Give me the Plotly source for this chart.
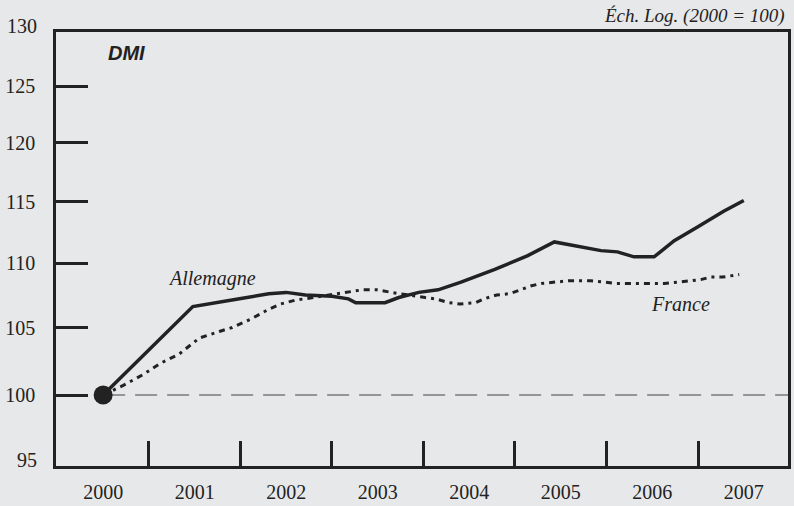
import math
import plotly.graph_objects as go

# DMI index, 2000 = 100 (log scale)
YEARS_ALLEMAGNE = [2000.0, 2000.98, 2001.49, 2001.81, 2002.0, 2002.21, 2002.5, 2002.68,
                   2002.76, 2003.08, 2003.23, 2003.45, 2003.66, 2003.91, 2004.28, 2004.64,
                   2004.93, 2005.15, 2005.44, 2005.62, 2005.8, 2006.02, 2006.24, 2006.49,
                   2006.78, 2007.0]
ALLEMAGNE = [100, 106.6, 107.2, 107.6, 107.7, 107.5, 107.4, 107.2,
             106.9, 106.9, 107.3, 107.7, 107.9, 108.5, 109.5, 110.6,
             111.7, 111.4, 111.0, 110.9, 110.5, 110.5, 111.8, 112.9,
             114.2, 115.1]

YEARS_FRANCE = [2000.0, 2000.22, 2000.44, 2000.62, 2000.83, 2001.05, 2001.27, 2001.41,
                2001.63, 2001.81, 2001.94, 2002.1, 2002.3, 2002.58, 2002.68, 2002.83,
                2002.99, 2003.15, 2003.52, 2003.63, 2003.78, 2003.9, 2004.07, 2004.16,
                2004.3, 2004.44, 2004.56, 2004.67, 2004.79, 2004.92, 2005.08, 2005.22,
                2005.33, 2005.48, 2005.6, 2005.73, 2005.98, 2006.13, 2006.28, 2006.4,
                2006.53, 2006.64, 2006.77, 2006.95]
FRANCE = [100, 100.7, 101.5, 102.3, 103.0, 104.2, 104.7, 105.0,
          105.7, 106.4, 106.8, 107.1, 107.3, 107.6, 107.7, 107.9,
          107.9, 107.7, 107.3, 107.2, 106.9, 106.8, 106.9, 107.2,
          107.5, 107.6, 107.9, 108.2, 108.4, 108.5, 108.6, 108.6,
          108.6, 108.5, 108.4, 108.4, 108.4, 108.4, 108.5, 108.6,
          108.7, 108.9, 108.9, 109.1]

YEAR_LABELS = [2000, 2001, 2002, 2003, 2004, 2005, 2006, 2007]
YEAR_BOUNDS = [2000.5, 2001.5, 2002.5, 2003.5, 2004.5, 2005.5, 2006.5]
Y_TICKS = [100, 105, 110, 115, 120, 125]
Y_MIN, Y_MAX = 95, 130
BASE = 100
X_RANGE = [1999.485, 2007.483]

BG = "#e7e8ea"
INK = "#222222"
SERIF = "Liberation Serif, Times New Roman, serif"
SANS = "Liberation Sans, Arial, sans-serif"

fig = go.Figure()

# base-100 reference line, from the start year to the right edge
fig.add_trace(go.Scatter(
    x=[YEARS_ALLEMAGNE[0], X_RANGE[1]], y=[BASE, BASE], mode="lines",
    line=dict(color="#7a7a7a", width=1.5, dash="22px,10px"),
    hoverinfo="skip", showlegend=False))

fig.add_trace(go.Scatter(
    x=YEARS_ALLEMAGNE, y=ALLEMAGNE, mode="lines",
    line=dict(color=INK, width=3.5), hoverinfo="skip", showlegend=False))

# France drawn on the overlay x-axis (same range) that carries the inner ticks
fig.add_trace(go.Scatter(
    x=YEARS_FRANCE, y=FRANCE, mode="lines", xaxis="x2",
    line=dict(color=INK, width=3, dash="6px,5px,3px,5px"),
    hoverinfo="skip", showlegend=False))

# common starting point
fig.add_trace(go.Scatter(
    x=[YEARS_ALLEMAGNE[0]], y=[ALLEMAGNE[0]], mode="markers",
    marker=dict(color=INK, size=19, symbol="circle"),
    hoverinfo="skip", showlegend=False))

fig.update_layout(
    width=794, height=506,
    margin=dict(l=56, r=3, t=32, b=35),
    paper_bgcolor=BG, plot_bgcolor=BG,
    xaxis=dict(
        range=X_RANGE, tickmode="array", tickvals=YEAR_LABELS,
        ticktext=[str(y) for y in YEAR_LABELS],
        ticks="", showgrid=False, zeroline=False,
        showline=True, linecolor=INK, linewidth=2.5, mirror=True,
        tickfont=dict(family=SERIF, size=20, color=INK),
        ticklabelstandoff=6,
    ),
    xaxis2=dict(
        range=X_RANGE, overlaying="x", anchor="y", side="bottom",
        tickmode="array", tickvals=YEAR_BOUNDS,
        ticks="inside", ticklen=25, tickwidth=2.5, tickcolor=INK,
        showticklabels=False, showgrid=False, zeroline=False, showline=False,
    ),
    yaxis=dict(
        type="log", range=[math.log10(Y_MIN), math.log10(Y_MAX)],
        tickmode="array", tickvals=Y_TICKS, ticktext=[str(v) for v in Y_TICKS],
        ticks="inside", ticklen=32, tickwidth=2.5, tickcolor=INK,
        showgrid=False, zeroline=False,
        showline=True, linecolor=INK, linewidth=2.5, mirror=True,
        tickfont=dict(family=SERIF, size=20, color=INK),
        ticklabelstandoff=14,
    ),
)

# end labels of the value axis
for val, pos, shift in [(Y_MAX, 1, 6), (Y_MIN, 0, 6)]:
    fig.add_annotation(text=str(val), xref="paper", yref="paper", x=0, y=pos,
                       xanchor="right", yanchor="middle", xshift=-17, yshift=shift,
                       showarrow=False, font=dict(family=SERIF, size=20, color=INK))

fig.add_annotation(text="<b><i>DMI</i></b>", x=2000.26, y=math.log10(128.0),
                   xref="x", yref="y", showarrow=False,
                   font=dict(family=SANS, size=20, color=INK))
fig.add_annotation(text="<i>Allemagne</i>", x=2001.185, y=math.log10(108.8),
                   xref="x", yref="y", showarrow=False,
                   font=dict(family=SERIF, size=20, color=INK))
fig.add_annotation(text="<i>France</i>", x=2006.306, y=math.log10(106.8),
                   xref="x", yref="y", showarrow=False,
                   font=dict(family=SERIF, size=20, color=INK))
fig.add_annotation(text="<i>Éch. Log. (2000 = 100)</i>", xref="paper", yref="paper",
                   x=1, y=1, xanchor="right", yanchor="middle", yshift=16, xshift=-1,
                   showarrow=False, font=dict(family=SERIF, size=19, color=INK))

fig.write_html("out.html")
